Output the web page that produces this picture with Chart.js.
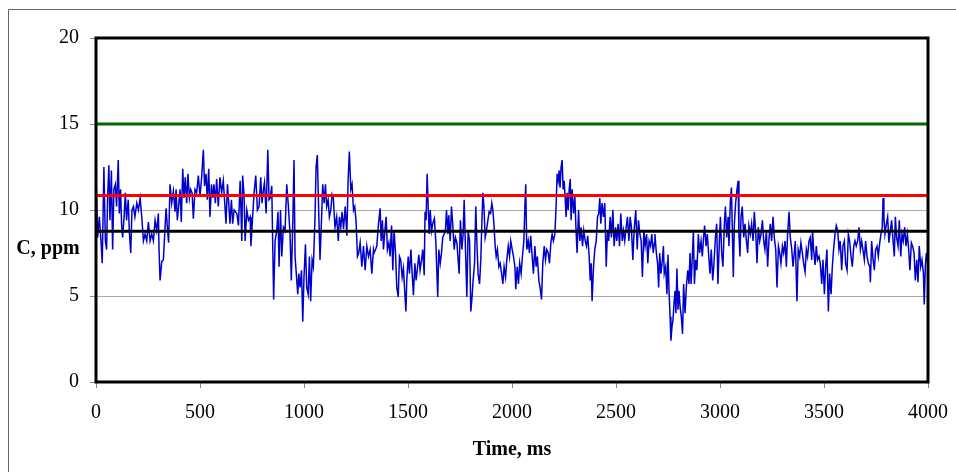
<!DOCTYPE html>
<html>
<head>
<meta charset="utf-8">
<script src="https://cdn.jsdelivr.net/npm/chart.js@4/dist/chart.umd.min.js"></script>
<style>
  html, body { margin: 0; padding: 0; background: #ffffff; }
  #wrap { width: 956px; height: 472px; position: relative; }
</style>
</head>
<body>
<div id="wrap"><canvas id="c" width="956" height="472"></canvas></div>
<script>
// ---- data ----
const timeMs = [
  0,8,16,24,30,38,45,51,56,62,67,74,80,86,93,99,107,112,118,123,128,135,141,147,155,160,167,173,180,187,196,204,212,220,228,236,244,252,260,268,276,284,292,300,303,308,316,324,332,337,343,349,356,364,372,380,385,391,397,404,410,417,423,429,436,442,449,455,462,468,476,484,492,500,508,516,522,529,535,542,548,555,561,567,574,580,588,596,604,612,620,625,632,638,644,651,657,664,
  677,685,693,701,705,712,717,725,733,741,745,752,760,768,776,784,792,798,805,810,818,826,832,838,845,850,854,861,869,875,880,887,893,901,909,917,925,933,939,946,952,957,963,970,975,981,988,994,1000,1007,1013,1020,1026,1032,1039,1045,1053,1058,1064,1071,1077,1084,1090,1097,1103,1109,1116,1122,1129,1135,1141,1149,1157,1165,1170,1177,1183,1190,1198,1206,1212,1218,1225,1231,1238,1244,1250,1257,1263,1270,1278,1286,1294,1302,1310,1318,1326,1334,
  1337,1344,1350,1358,1366,1371,1377,1382,1389,1395,1401,1408,1414,1421,1427,1433,1440,1446,1453,1459,1465,1472,1478,1485,1490,1494,1501,1507,1514,1520,1526,1533,1539,1546,1552,1558,1565,1571,1578,1582,1587,1592,1597,1602,1607,1613,1619,1627,1634,1639,1643,1648,1655,1661,1667,1674,1680,1685,1692,1696,1703,1709,1716,1722,1728,1735,1741,1746,1752,1759,1765,1770,1776,1783,1789,1796,1802,1807,1813,1820,1826,1831,1837,1844,1850,1855,1860,1865,1871,1877,1884,1890,1897,1903,1908,1913,1919,1924,1930,1937,1943,1950,1956,1962,1969,1975,1982,1988,1994,2001,2007,2014,
  2018,2025,2031,2037,2044,2050,2057,2062,2066,2071,2078,2084,2090,2097,2103,2110,2116,2122,2129,2135,2142,2148,2155,2161,2167,2174,2180,2187,2193,2199,2206,2212,2217,2222,2227,2231,2236,2241,2246,2251,2256,2260,2265,2270,2275,2280,2284,2289,2296,2302,2308,2313,2320,2326,2332,2339,2345,2352,2358,2364,2371,2376,2381,2385,2392,2398,2405,2411,2417,2422,2427,2433,2440,2446,2453,2459,2465,2472,2478,2485,2491,2498,2504,2510,2517,2523,2530,2536,2542,2549,2555,2562,2568,2574,2581,2587,2595,2602,2608,2615,2621,2627,2634,2640,2647,2653,2659,2666,2672,2679,2685,
  2687,2694,2700,2705,2710,2716,2723,2728,2732,2739,2745,2750,2755,2760,2764,2769,2774,2779,2784,2788,2793,2798,2803,2808,2814,2820,2825,2832,2838,2845,2851,2856,2861,2867,2872,2877,2883,2889,2896,2902,2909,2915,2921,2926,2933,2939,2946,2952,2958,2965,2971,2978,2984,2990,2997,3002,3008,3014,3021,3026,3032,3039,3043,3050,3055,3059,3064,3069,3075,3080,3087,3091,3096,3101,3107,3114,3120,3127,3133,3139,3146,3152,3159,3165,3172,3178,3184,3191,3197,3204,3210,3216,3223,3229,3236,3242,3248,3255,3261,3268,3274,3281,3287,3293,3300,3306,3313,3319,3325,3332,3338,3345,3351,3357,
  3362,3370,3376,3383,3389,3396,3402,3409,3415,3421,3428,3434,3441,3445,3450,3457,3463,3469,3476,3482,3489,3495,3502,3508,3514,3521,3527,3534,3540,3546,3553,3559,3566,3572,3578,3585,3591,3598,3604,3611,3617,3623,3630,3636,3643,3649,3655,3662,3668,3675,3681,3687,3694,3700,3707,3713,3720,3723,3729,3736,3742,3748,3755,3761,3768,3774,3780,3784,3788,3793,3800,3806,3812,3819,3825,3832,3838,3843,3849,3856,3862,3869,3875,3881,3888,3894,3901,3907,3913,3920,3926,3933,3939,3946,3952,3958,3965,3971,3978,3982,3987,3992,4000
];
const concPpm = [
  11.9,8.4,9.6,8.2,6.9,12.5,8.2,7.7,10.8,12.6,9.4,12.3,7.7,11.2,11.5,10.2,12.9,9.8,11.2,9.2,8.4,9.6,11.0,9.4,10.6,8.8,7.5,10.0,10.2,9.6,10.4,10.0,10.7,9.6,8.2,8.6,8.2,9.3,8.2,8.6,8.2,9.4,8.8,9.8,7.7,5.9,7.0,7.1,9.0,10.1,9.0,8.1,11.5,10.4,11.1,9.9,11.2,9.4,10.2,11.2,9.3,12.4,10.7,11.9,10.4,12.1,10.7,11.2,11.0,9.5,11.2,11.0,12.0,10.8,11.9,13.5,11.4,12.1,10.6,12.4,9.6,11.5,10.7,11.5,10.4,11.8,10.2,11.9,11.0,11.7,10.2,9.2,11.5,10.4,9.2,10.6,9.2,10.0,
  9.8,9.1,11.7,8.2,12.0,10.8,8.2,10.0,9.4,9.6,7.9,9.4,11.0,12.0,10.0,10.2,11.9,10.4,11.2,11.6,9.8,13.5,10.6,10.7,11.4,7.7,4.8,8.2,8.8,9.9,6.7,10.0,7.3,9.0,8.8,11.5,10.2,8.6,5.9,9.2,12.9,7.3,6.3,5.1,6.3,5.5,6.5,3.5,6.1,8.0,5.5,5.1,7.3,4.7,7.1,6.7,9.6,12.5,13.2,9.8,7.1,9.4,11.5,10.4,11.5,10.2,10.6,9.6,10.0,10.9,10.7,9.0,9.6,8.2,9.6,9.0,9.9,8.9,10.2,8.5,11.7,13.4,11.2,11.5,10.0,10.2,9.4,7.3,7.5,8.1,6.7,7.9,6.5,7.9,7.3,7.7,6.3,7.7,
  7.5,7.7,7.9,9.2,10.1,8.2,9.4,7.7,8.8,9.6,7.7,8.1,7.3,9.1,6.5,8.8,7.5,5.5,4.95,7.3,7.1,6.1,6.6,5.1,4.1,5.9,7.3,6.3,7.7,6.3,5.05,6.9,5.9,6.7,7.4,6.5,7.1,7.7,6.2,9.9,9.4,12.1,10.2,8.6,10.0,8.8,9.2,9.5,8.1,6.3,4.95,7.7,6.9,7.5,8.4,8.6,8.8,10.0,8.6,9.7,8.2,10.2,9.0,7.7,8.4,8.1,7.1,6.3,9.4,7.7,8.6,10.6,7.9,4.95,8.8,8.2,4.1,4.8,5.9,6.9,10.2,8.2,6.3,5.7,7.1,9.2,11.0,10.2,8.4,8.8,9.4,9.9,9.8,10.4,10.0,9.2,7.9,7.3,7.7,6.7,6.9,6.3,5.7,6.7,6.1,7.1,7.9,7.3,8.2,7.7,7.3,6.7,
  5.4,6.7,5.7,6.9,6.3,7.3,8.2,10.2,11.5,7.7,8.2,7.5,8.5,7.3,6.3,7.9,6.7,7.3,5.9,5.5,4.8,6.9,7.9,7.1,7.7,7.5,6.9,8.1,8.6,8.2,8.6,10.2,12.1,11.7,12.3,11.3,12.5,12.9,11.2,11.7,10.6,9.6,11.0,10.0,11.2,11.8,9.4,11.2,9.8,10.8,8.8,7.5,10.0,8.2,9.0,7.9,8.8,8.2,7.9,8.5,7.3,5.9,6.9,4.7,6.7,7.7,8.2,9.6,9.8,10.7,9.2,10.4,9.6,10.4,6.7,8.8,8.2,9.6,8.4,10.0,7.9,9.0,8.2,9.2,7.9,9.8,8.2,8.8,8.2,9.0,9.6,8.2,9.6,9.0,7.1,8.8,10.0,7.7,9.4,8.6,8.2,6.1,8.8,7.9,8.6,6.9,8.2,7.9,8.6,7.5,8.1,
  8.6,7.5,6.9,5.5,7.5,6.3,7.1,7.9,6.3,6.7,5.1,7.4,5.3,3.8,2.4,3.2,3.6,4.6,5.3,4.0,6.6,4.2,5.3,4.4,3.8,2.8,5.7,4.0,5.5,6.5,5.7,7.5,5.7,7.3,8.8,5.7,7.1,6.5,8.6,7.5,8.2,7.3,8.4,9.1,7.9,8.6,7.3,6.3,7.7,5.9,6.9,8.4,9.2,5.7,8.2,9.6,7.5,6.7,9.2,10.2,8.4,9.6,7.9,10.6,11.3,9.0,6.1,9.2,10.4,11.0,11.7,8.6,7.3,9.6,10.2,8.4,9.2,8.2,7.5,9.1,8.6,9.2,8.2,9.9,8.6,6.9,9.0,8.2,8.6,9.4,8.2,7.7,8.8,6.7,8.4,9.2,8.2,9.6,8.4,7.7,5.5,7.9,7.5,6.9,7.9,7.5,8.2,6.7,8.6,9.9,8.4,7.7,6.7,7.5,
  8.2,4.7,7.7,7.3,8.1,7.5,6.9,6.4,7.7,7.3,8.2,8.4,7.1,8.8,7.7,6.8,7.9,7.1,7.3,6.9,5.7,7.1,5.1,6.7,7.7,4.1,6.3,5.1,6.7,7.7,8.6,9.1,8.8,7.7,8.2,6.5,7.9,8.2,6.9,6.5,8.6,8.2,7.3,6.7,7.9,8.2,7.9,8.2,9.0,7.7,8.2,7.7,7.1,8.2,7.3,6.9,6.7,5.8,8.2,7.1,6.5,7.7,7.9,7.3,8.1,8.6,9.0,10.7,9.6,8.6,9.2,9.6,8.1,8.8,9.4,8.2,7.3,9.6,8.4,7.9,9.4,7.3,8.6,8.2,9.0,7.9,8.6,7.7,6.5,8.1,7.9,7.5,5.9,7.1,5.8,7.9,6.7,7.1,6.3,4.5,6.7,7.5,6.7
];
const greenLevel = 15;
const redLevel = 10.85;
const blackLevel = 8.77;
const xTickValues = [0, 500, 1000, 1500, 2000, 2500, 3000, 3500, 4000];
const yTickValues = [0, 5, 10, 15, 20];
const xTitle = 'Time, ms';
const yTitle = 'C, ppm';

const seriesPoints = timeMs.map((t, i) => ({ x: t, y: concPpm[i] }));
const levelLine = v => [{ x: xTickValues[0], y: v }, { x: xTickValues[xTickValues.length - 1], y: v }];

const serif = "'Liberation Serif', 'Times New Roman', serif";

const framePlugin = {
  id: 'frames',
  beforeDraw(chart) {
    const ctx = chart.ctx;
    ctx.save();
    ctx.fillStyle = '#ffffff';
    ctx.fillRect(0, 0, chart.width, chart.height);
    ctx.strokeStyle = '#666666';
    ctx.lineWidth = 1;
    ctx.beginPath();
    ctx.moveTo(8.5, chart.height);
    ctx.lineTo(8.5, 9.5);
    ctx.lineTo(chart.width, 9.5);
    ctx.stroke();
    ctx.restore();
  },
  afterDatasetsDraw(chart) {
    const { ctx, chartArea: a } = chart;
    ctx.save();
    ctx.strokeStyle = '#000000';
    ctx.lineWidth = 3;
    ctx.strokeRect(a.left, a.top, a.right - a.left, a.bottom - a.top);
    ctx.restore();
  },
  afterDraw(chart) {
    const { ctx, chartArea: a } = chart;
    const ys = chart.scales.y;
    ctx.save();
    ctx.fillStyle = '#000000';
    ctx.font = "bold 20px " + serif;
    ctx.textAlign = 'center';
    ctx.textBaseline = 'middle';
    ctx.fillText(yTitle, a.left - 48, ys.getPixelForValue(7.75));
    ctx.restore();
  }
};

new Chart(document.getElementById('c'), {
  type: 'line',
  data: {
    datasets: [
      { label: 'green', data: levelLine(greenLevel), borderColor: '#006600', borderWidth: 3, pointRadius: 0, order: 1 },
      { label: 'red', data: levelLine(redLevel), borderColor: '#ff0000', borderWidth: 3, pointRadius: 0, order: 2 },
      { label: 'black', data: levelLine(blackLevel), borderColor: '#000000', borderWidth: 3, pointRadius: 0, order: 3 },
      { label: 'C', data: seriesPoints, borderColor: '#0000cc', borderWidth: 1.5, pointRadius: 0, tension: 0, order: 10 }
    ]
  },
  options: {
    responsive: false,
    animation: false,
    events: [],
    layout: { padding: { left: 0, top: 38, right: 28, bottom: 0 } },
    plugins: { legend: { display: false }, tooltip: { enabled: false } },
    scales: {
      x: {
        type: 'linear',
        min: 0, max: 4000,
        afterBuildTicks: s => { s.ticks = xTickValues.map(v => ({ value: v })); },
        afterFit: s => { s.height = 90; s.paddingLeft = 0; s.paddingRight = 0; },
        grid: { display: true, drawOnChartArea: false, drawTicks: true, tickLength: 6, tickColor: '#888888', lineWidth: 1 },
        border: { display: false },
        ticks: { color: '#000000', padding: 13, maxRotation: 0, autoSkip: false, font: { family: serif, size: 20 }, callback: v => String(v) },
        title: { display: true, text: xTitle, color: '#000000', font: { family: serif, size: 20, weight: 'bold' }, padding: { top: 0, bottom: 10 } }
      },
      y: {
        type: 'linear',
        min: 0, max: 20,
        afterBuildTicks: s => { s.ticks = yTickValues.map(v => ({ value: v })); },
        afterFit: s => { s.width = 96; s.paddingTop = 0; s.paddingBottom = 0; },
        grid: {
          display: true, drawTicks: true, tickLength: 6, tickColor: '#888888', lineWidth: 1,
          color: c => (c.tick && (c.tick.value === 5 || c.tick.value === 10)) ? '#aaaaaa' : 'rgba(0,0,0,0)'
        },
        border: { display: false },
        ticks: { color: '#000000', padding: 11, font: { family: serif, size: 20 }, callback: v => String(v) }
      }
    }
  },
  plugins: [framePlugin]
});
</script>
</body>
</html>
